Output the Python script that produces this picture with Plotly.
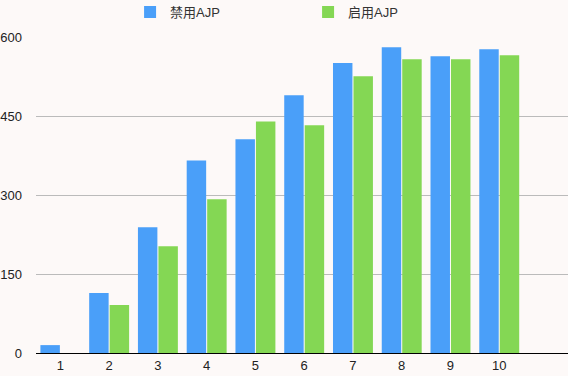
import plotly.graph_objects as go

categories = ["1", "2", "3", "4", "5", "6", "7", "8", "9", "10"]
disabled_ajp = [15, 114, 239, 366, 406, 490, 551, 581, 564, 577]
enabled_ajp = [0, 91, 203, 292, 440, 433, 526, 558, 558, 566]
y_ticks = [0, 150, 300, 450, 600]

font_family = "Liberation Sans, Arial, Noto Sans CJK SC, sans-serif"
bg = "#fdf9f8"

fig = go.Figure()
fig.add_trace(go.Bar(x=list(range(len(categories))), y=disabled_ajp, name="禁用AJP",
                     marker=dict(color="#4a9ff9", line=dict(width=0))))
fig.add_trace(go.Bar(x=list(range(len(categories))), y=enabled_ajp, name="启用AJP",
                     marker=dict(color="#84d754", line=dict(width=0))))

fig.update_layout(
    width=568, height=376,
    margin=dict(l=34, r=0, t=37, b=23),
    paper_bgcolor=bg, plot_bgcolor=bg,
    barmode="group", bargap=0.16, bargroupgap=0.05,
    font=dict(family=font_family, size=13, color="#222"),
    showlegend=True,
    legend=dict(orientation="h", xref="container", yref="container",
                x=0.229, y=0.968, xanchor="left", yanchor="middle",
                entrywidth=133, entrywidthmode="pixels",
                font=dict(size=13, color="#333"), bgcolor="rgba(0,0,0,0)",
                itemsizing="constant"),
    xaxis=dict(tickmode="array", tickvals=list(range(len(categories))), ticktext=categories,
               range=[-0.5, 10.41], showgrid=False, showline=True, linecolor="#000", linewidth=1,
               ticks="", zeroline=False, fixedrange=True),
    yaxis=dict(tickmode="array", tickvals=y_ticks, ticktext=[str(v) for v in y_ticks],
               range=[0, 600.5], showgrid=True, gridcolor="#bbbbbb", gridwidth=1,
               zeroline=False, showline=False, ticks="", ticklabelstandoff=13, fixedrange=True),
)

fig.write_html("out.html", config={"displayModeBar": False},
               post_script="document.body.style.margin='0';document.body.style.background='%s';" % bg)
